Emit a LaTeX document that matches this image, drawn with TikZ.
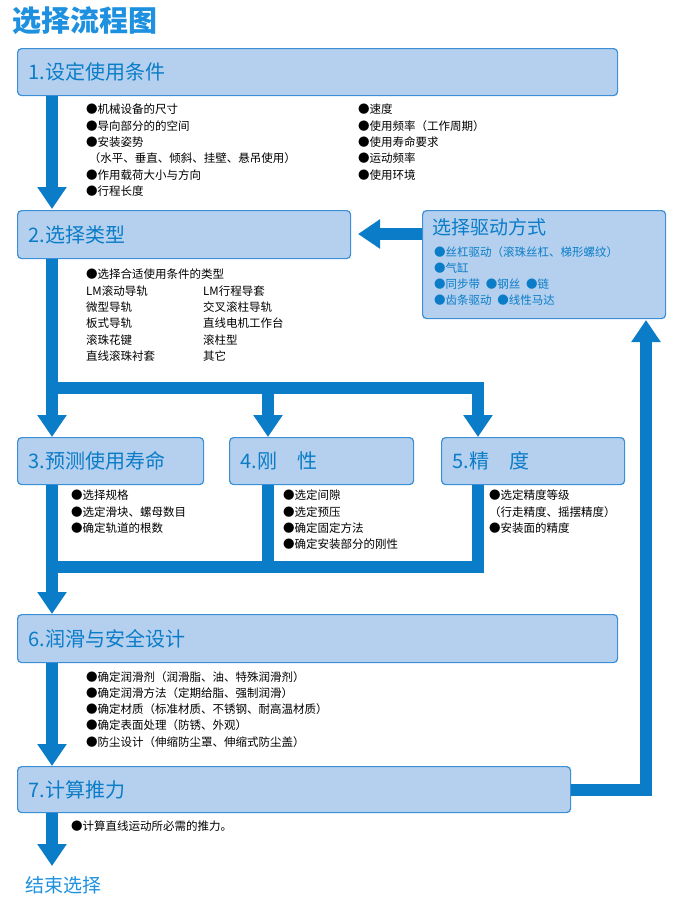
\documentclass[tikz,border=0pt]{standalone}
\usepackage{fontspec}
\setmainfont{Noto Sans CJK SC}
\usetikzlibrary{arrows.meta}
\definecolor{boxfill}{HTML}{B4D0EE}
\definecolor{boxline}{HTML}{3A8FD6}
\definecolor{flow}{HTML}{0A7CC8}
\definecolor{ttl}{HTML}{1E90E0}
\tikzset{
 stepbox/.style={draw=boxline,line width=1.2pt,fill=boxfill,rounded corners=4pt,anchor=north west,inner sep=0pt},
 boxtext/.style={anchor=west,text=flow,font=\fontsize{20}{22}\selectfont},
 items/.style={anchor=north west,align=left,inner sep=0pt,font=\fontsize{11.5}{16.3}\selectfont},
 bar/.style={draw=flow,line width=12pt},
 flowarrow/.style={bar,-{Triangle[width=28pt,length=22pt]}},
}
\begin{document}
\begin{tikzpicture}[x=1pt,y=-1pt]
\useasboundingbox (0,0) rectangle (673,905);
\node[anchor=north west,inner sep=0pt,text=ttl,font=\fontsize{29}{30}\selectfont\bfseries] (title) at (12,6) {选择流程图};
% boxes
\node[stepbox,minimum width=600pt,minimum height=47pt] (b1) at (17,48) {};
\node[boxtext] at ([xshift=8pt]b1.west) {1.设定使用条件};
\node[stepbox,minimum width=333pt,minimum height=48pt] (b2) at (17,210) {};
\node[boxtext] at ([xshift=8pt]b2.west) {2.选择类型};
\node[stepbox,minimum width=243pt,minimum height=108pt] (bd) at (422,210) {};
\node[stepbox,minimum width=186pt,minimum height=47pt] (b3) at (17,437) {};
\node[boxtext] at ([xshift=8pt]b3.west) {3.预测使用寿命};
\node[stepbox,minimum width=184pt,minimum height=47pt] (b4) at (229,437) {};
\node[boxtext] at ([xshift=8pt]b4.west) {4.刚\quad 性};
\node[stepbox,minimum width=183pt,minimum height=47pt] (b5) at (441,437) {};
\node[boxtext] at ([xshift=8pt]b5.west) {5.精\quad 度};
\node[stepbox,minimum width=600pt,minimum height=48pt] (b6) at (17,614) {};
\node[boxtext] at ([xshift=8pt]b6.west) {6.润滑与安全设计};
\node[stepbox,minimum width=553pt,minimum height=46pt] (b7) at (17,766) {};
\node[boxtext] at ([xshift=8pt]b7.west) {7.计算推力};
% drive box content
\node[anchor=north west,inner sep=0pt,text=flow,font=\fontsize{19}{20}\selectfont] (dt) at (432,218) {选择驱动方式};
\node[items,text=flow] (di) at (434,246) {●丝杠驱动（滚珠丝杠、梯形螺纹）\\●气缸\\●同步带\enspace ●钢丝\enspace ●链\\●齿条驱动\enspace ●线性马达};
% item lists
\node[items] (i1a) at (86,104) {●机械设备的尺寸\\●导向部分的的空间\\●安装姿势\\\ （水平、垂直、倾斜、挂壁、悬吊使用）\\●作用载荷大小与方向\\●行程长度};
\node[items] (i1b) at (358,104) {●速度\\●使用频率（工作周期）\\●使用寿命要求\\●运动频率\\●使用环境};
\node[items] (i2a) at (86,269) {●选择合适使用条件的类型\\LM滚动导轨\\微型导轨\\板式导轨\\滚珠花键\\直线滚珠衬套};
\node[items] (i2b) at (203,285.3) {LM行程导套\\交叉滚柱导轨\\直线电机工作台\\滚柱型\\其它};
\node[items] (i3) at (71,490) {●选择规格\\●选定滑块、螺母数目\\●确定轨道的根数};
\node[items] (i4) at (283,490) {●选定间隙\\●选定预压\\●确定固定方法\\●确定安装部分的刚性};
\node[items] (i5) at (489,490) {●选定精度等级\\（行走精度、摇摆精度）\\●安装面的精度};
\node[items] (i6) at (86,671) {●确定润滑剂（润滑脂、油、特殊润滑剂）\\●确定润滑方法（定期给脂、强制润滑）\\●确定材质（标准材质、不锈钢、耐高温材质）\\●确定表面处理（防锈、外观）\\●防尘设计（伸缩防尘罩、伸缩式防尘盖）};
\node[items] (i7) at (71,821) {●计算直线运动所必需的推力。};
\node[anchor=north west,inner sep=0pt,text=ttl,font=\fontsize{19}{20}\selectfont] (endt) at (25,876) {结束选择};
% connectors
\coordinate (s1) at (52,95.6);
\coordinate (j1) at (52,388);
\coordinate (j4) at (268,388);
\coordinate (j5) at (478,388);
\coordinate (k3) at (52,567);
\coordinate (k4) at (268,567);
\coordinate (k5) at (478,567);
\coordinate (e7) at (52,866);
\coordinate (r7) at (570.6,790);
\coordinate (c7) at (646,790);
\draw[flowarrow] (s1) -- (52,209);
\draw[bar] (b2.south -| j1) -- (j1);
\draw[bar] ([xshift=-6pt]j1) -- ([xshift=6pt]j5);
\draw[flowarrow] (j1) -- (b3.north -| j1);
\draw[flowarrow] (j4) -- (b4.north -| j4);
\draw[flowarrow] (j5) -- (b5.north -| j5);
\draw[bar] (b3.south -| k3) -- (k3);
\draw[bar] (b4.south -| k4) -- (k4);
\draw[bar] (b5.south -| k5) -- (k5);
\draw[bar] ([xshift=6pt]k5) -- ([xshift=-6pt]k3);
\draw[flowarrow] (k3) -- (b6.north -| k3);
\draw[flowarrow] (b6.south -| k3) -- (b7.north -| k3);
\draw[flowarrow] (b7.south -| k3) -- (e7);
\draw[bar] (r7) -- ([xshift=6pt]c7);
\draw[flowarrow] (c7) -- (646,320);
\draw[flowarrow] (bd.west |- 0,234) -- (358,234);
\end{tikzpicture}
\end{document}
